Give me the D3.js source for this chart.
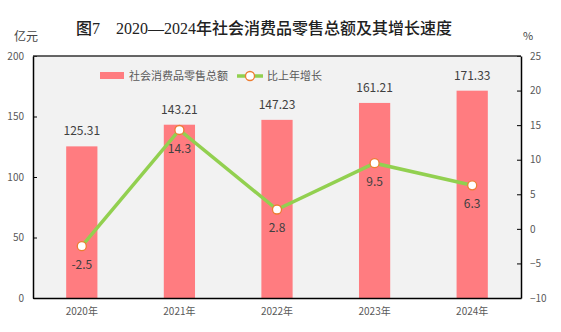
<!DOCTYPE html>
<html><head><meta charset="utf-8">
<script src="https://cdn.jsdelivr.net/npm/d3@7"></script>
<style>body{margin:0;background:#fff}svg{display:block}</style>
</head><body><svg id="c" width="561" height="332"></svg>
<script>
const categories = ["2020年","2021年","2022年","2023年","2024年"];
const salesValues = [125.31,143.21,147.23,161.21,171.33];
const growthValues = [-2.5,14.3,2.8,9.5,6.3];
const leftTicks = [0,50,100,150,200];
const rightTicks = [-10,-5,0,5,10,15,20,25];
const titleText = "图7　2020—2024年社会消费品零售总额及其增长速度";
const legendLabels = ["社会消费品零售总额","比上年增长"];

const svg = d3.select("#c");
const m = {l:33, r:521, t:56, b:298};
const x = d3.scaleBand().domain(categories).range([m.l, m.r]).paddingInner(0.68).paddingOuter(0.34);
const yL = d3.scaleLinear().domain([0,200]).range([m.b, m.t]);
const yR = d3.scaleLinear().domain([-10,25]).range([m.b, m.t]);
const font = "'Microsoft YaHei','Noto Sans CJK SC',sans-serif";

svg.append("rect").attr("x",m.l).attr("y",m.t).attr("width",m.r-m.l).attr("height",m.b-m.t).attr("fill","#f2f2f2");

// title
svg.append("text").attr("x",264).attr("y",34).attr("text-anchor","middle")
  .attr("font-family","'Liberation Serif','Noto Sans CJK SC',serif").attr("font-weight",500)
  .attr("font-size",16).attr("fill","#222").text(titleText);
svg.append("text").attr("x",14).attr("y",41).attr("font-family",font).attr("font-size",12).attr("fill","#444").text("亿元");
svg.append("text").attr("x",523).attr("y",40).attr("font-family",font).attr("font-size",11).attr("fill","#444").text("%");

// bars
svg.selectAll(".bar").data(salesValues).enter().append("rect")
  .attr("x",(d,i)=>x(categories[i])).attr("width",x.bandwidth())
  .attr("y",d=>yL(d)).attr("height",d=>m.b-yL(d)).attr("fill","#ff7c80");
svg.selectAll(".bl").data(salesValues).enter().append("text")
  .attr("x",(d,i)=>x(categories[i])+x.bandwidth()/2).attr("y",d=>yL(d)-11)
  .attr("text-anchor","middle").attr("font-family",font).attr("font-size",12).attr("fill","#404040")
  .text(d=>d.toFixed(2));

// axes
const axL = d3.axisLeft(yL).tickValues(leftTicks).tickSizeInner(-4).tickSizeOuter(0).tickPadding(9);
const gL = svg.append("g").attr("transform",`translate(${m.l},0)`).call(axL);
const axR = d3.axisRight(yR).tickValues(rightTicks).tickSizeInner(-4).tickSizeOuter(0).tickPadding(9);
const gR = svg.append("g").attr("transform",`translate(${m.r},0)`).call(axR);
const axB = d3.axisBottom(x).tickSize(0).tickPadding(10);
const gB = svg.append("g").attr("transform",`translate(0,${m.b})`).call(axB);
[gL,gR,gB].forEach(g=>{
  g.selectAll("text").attr("font-family",font).attr("font-size",10).attr("fill","#595959");
  g.selectAll("line").attr("stroke","#000");
  g.select(".domain").attr("stroke","#000").attr("stroke-width",1.5);
});
svg.append("line").attr("x1",m.l).attr("x2",m.r).attr("y1",m.t).attr("y2",m.t).attr("stroke","#333").attr("stroke-width",1.5);

// line
const cx = (d,i)=>x(categories[i])+x.bandwidth()/2;
const line = d3.line().x(cx).y(d=>yR(d));
svg.append("path").datum(growthValues).attr("d",line).attr("fill","none").attr("stroke","#92d050").attr("stroke-width",3.5);
svg.selectAll(".pt").data(growthValues).enter().append("circle")
  .attr("cx",cx).attr("cy",d=>yR(d)).attr("r",4.5).attr("fill","#fff").attr("stroke","#ed7d31").attr("stroke-width",1.3);
svg.selectAll(".pl").data(growthValues).enter().append("text")
  .attr("x",cx).attr("y",d=>yR(d)+23).attr("text-anchor","middle")
  .attr("font-family",font).attr("font-size",12).attr("fill","#404040").text(d=>d.toFixed(1));

// legend
svg.append("rect").attr("x",100).attr("y",72).attr("width",24).attr("height",7).attr("fill","#ff7c80");
svg.append("text").attr("x",129).attr("y",80).attr("font-family",font).attr("font-size",11).attr("fill","#595959").text(legendLabels[0]);
svg.append("line").attr("x1",237).attr("x2",263).attr("y1",76).attr("y2",76).attr("stroke","#92d050").attr("stroke-width",3.5);
svg.append("circle").attr("cx",250).attr("cy",76).attr("r",4.5).attr("fill","#fff").attr("stroke","#ed7d31").attr("stroke-width",1.3);
svg.append("text").attr("x",267).attr("y",80).attr("font-family",font).attr("font-size",11).attr("fill","#595959").text(legendLabels[1]);
</script></body></html>
